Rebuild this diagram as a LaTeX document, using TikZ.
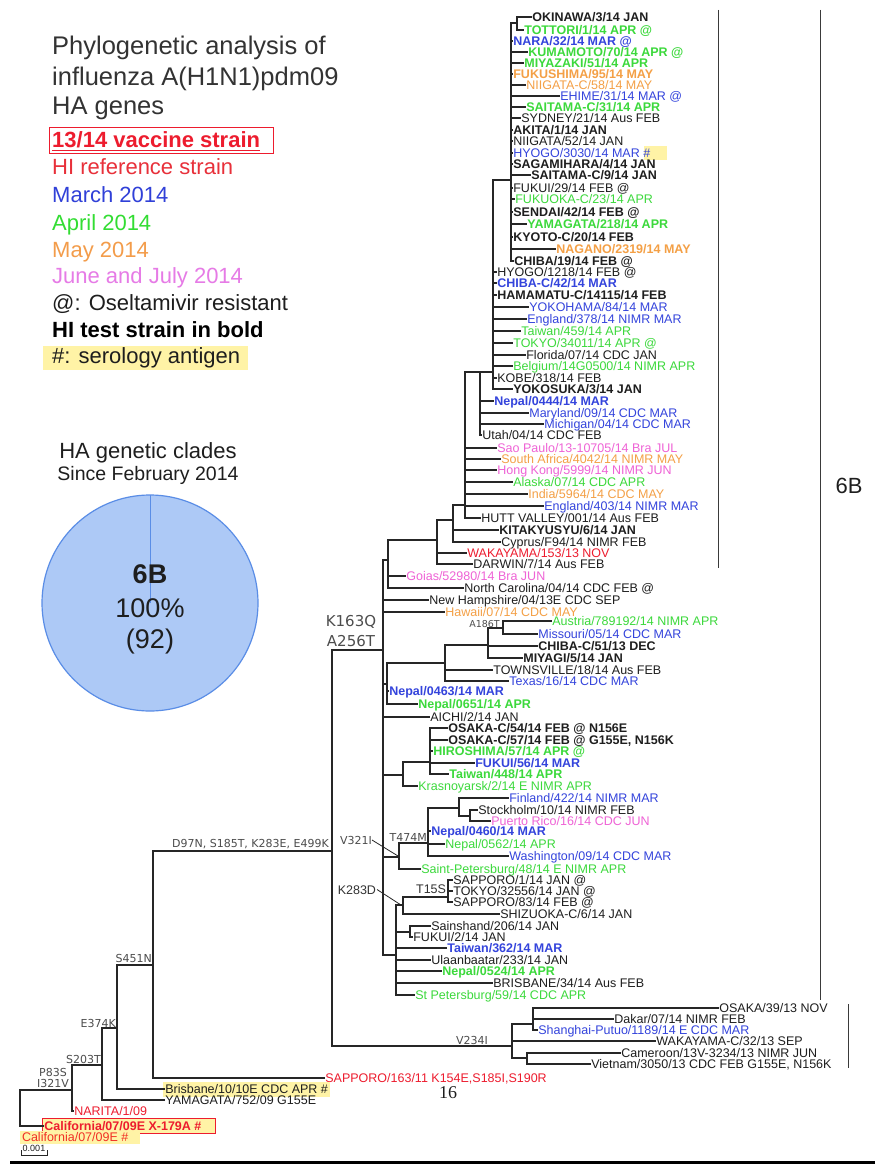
\documentclass[tikz,border=0pt]{standalone}
\usepackage{fontspec}
\setmainfont{Liberation Sans}
\newfontfamily\mutfont{DejaVu Sans}
\newfontfamily\numserif{Liberation Serif}

\definecolor{tline}{HTML}{262626}
\definecolor{tblack}{HTML}{1E1E1E}
\definecolor{tblue}{HTML}{3444DC}
\definecolor{tgreen}{HTML}{3CD93C}
\definecolor{torange}{HTML}{F4A046}
\definecolor{tpink}{HTML}{EF63D6}
\definecolor{tred}{HTML}{ED1C2E}
\definecolor{hlyel}{HTML}{FFF3A6}
\definecolor{piefill}{HTML}{ADC9F6}
\definecolor{pieedge}{HTML}{5A8DE6}
\definecolor{mutgray}{HTML}{4D4D4D}
\definecolor{ttl}{HTML}{333333}
\definecolor{brkgray}{HTML}{3A3A3A}
\definecolor{legred}{HTML}{E8303A}
\definecolor{legblue}{HTML}{3040D8}
\definecolor{leggreen}{HTML}{33DD33}
\definecolor{legorange}{HTML}{F39C4A}
\definecolor{legpink}{HTML}{E67BE6}

\newcommand\labfont{\fontsize{12.5}{13}\selectfont}
\newcommand\mutsize{\mutfont\fontsize{11}{12}\selectfont}
\newcommand\ttlfont{\fontsize{25.5}{28}\selectfont}
\newcommand\legfont{\fontsize{22}{24}\selectfont}

% tree drawing helpers (pixel units, y grows downwards)
% leaf: name, x of parent bar, x of tip, y, node style, text
\newcommand\tleaf[6]{\draw[br] (#2,#4) -- (#3,#4) node[#5] (#1) {#6};}
% vertical bar of an internal node: x, y top, y bottom
\newcommand\tvert[3]{\draw[br] (#1,#2) -- (#1,#3);}
% stem from a parent bar to a child bar: x parent, x child, y
\newcommand\tstem[3]{\draw[br] (#1,#3) -- (#2,#3);}

\tikzset{
  br/.style={draw=tline,line width=1.1pt,line cap=rect},
  R/.style={font=\labfont,anchor=west,inner sep=0.8pt,text height=9pt,text depth=0pt,text=tblack},
  B/.style={R,font=\labfont\bfseries},
  cblu/.style={text=tblue},
  cgrn/.style={text=tgreen},
  corg/.style={text=torange},
  cpnk/.style={text=tpink},
  cred/.style={text=tred},
  mut/.style={font=\mutsize,text=mutgray,inner sep=0pt},
  leg/.style={anchor=base west,inner sep=0pt,font=\legfont},
  brk/.style={draw=brkgray,line width=1pt},
}

\begin{document}
\begin{tikzpicture}[x=1pt,y=-1pt]
\fill[white] (0,0) rectangle (875,1169);

% ---------------- title and legend ----------------
\node[anchor=base west,inner sep=0,font=\ttlfont,text=ttl] (t1) at (52,55) {Phylogenetic analysis of};
\node[anchor=base west,inner sep=0,font=\ttlfont,text=ttl] (t2) at (52,85.5) {influenza A(H1N1)pdm09};
\node[anchor=base west,inner sep=0,font=\ttlfont,text=ttl] (t3) at (52,115) {HA genes};
\draw[tred,line width=0.9pt] (49,127) rectangle (273,153);
\node[leg,font=\legfont\bfseries,text=tred] (g1) at (52,148) {\underline{13/14 vaccine strain}};
\node[leg,text=legred] (g2) at (52,175) {HI reference strain};
\node[leg,text=legblue] (g3) at (52,202) {March 2014};
\node[leg,text=leggreen] (g4) at (52,230) {April 2014};
\node[leg,text=legorange] (g5) at (52,257) {May 2014};
\node[leg,text=legpink] (g6) at (52,283) {June and July 2014};
\node[leg,text=tblack] (g7) at (52,310) {@: Oseltamivir resistant};
\node[leg,font=\legfont\bfseries,text=black] (g8) at (52,337) {HI test strain in bold};
\fill[hlyel] (43,346) rectangle (248,370);
\node[leg,text=tblack] (g9) at (52,363) {\#: serology antigen};

% ---------------- clade pie ----------------
\node[anchor=base,inner sep=0,font=\legfont,text=tblack] (p1) at (148,458) {HA genetic clades};
\node[anchor=base,inner sep=0,font=\fontsize{19.5}{21}\selectfont,text=tblack] (p2) at (148,480) {Since February 2014};
\fill[piefill] (150,603) circle[radius=108pt];
\draw[pieedge,line width=1.2pt] (150,603) circle[radius=108pt];
\draw[pieedge,line width=1pt] (150,603) -- (150,495);
\node[anchor=base,inner sep=0,font=\fontsize{27}{28}\selectfont\bfseries,text=tblack] (p3) at (150,583) {6B};
\node[anchor=base,inner sep=0,font=\fontsize{27}{28}\selectfont,text=tblack] (p4) at (150,617) {100\%};
\node[anchor=base,inner sep=0,font=\fontsize{27}{28}\selectfont,text=tblack] (p5) at (150,648) {(92)};

% ---------------- top clade ----------------
\tvert{517}{17}{30}
\tstem{511}{517}{23}
\tleaf{okinawa}{517}{531}{17}{B}{OKINAWA/3/14 JAN}
\tleaf{tottori}{517}{523}{30}{B,cgrn}{TOTTORI/1/14 APR @}
\tvert{511}{23}{261}
\tleaf{nara}{511}{512}{41}{B,cblu}{NARA/32/14 MAR @}
\tleaf{kumamoto}{511}{527}{52}{B,cgrn}{KUMAMOTO/70/14 APR @}
\tleaf{miyazaki}{511}{523}{63}{B,cgrn}{MIYAZAKI/51/14 APR}
\tleaf{fukushima}{511}{512}{74}{B,corg}{FUKUSHIMA/95/14 MAY}
\tleaf{niigatac}{511}{525}{85}{R,corg}{NIIGATA-C/58/14 MAY}
\tleaf{ehime}{511}{559}{96}{R,cblu}{EHIME/31/14 MAR @}
\tleaf{saitamacA}{511}{525}{107}{B,cgrn}{SAITAMA-C/31/14 APR}
\tleaf{sydney}{511}{520}{118}{R}{SYDNEY/21/14 Aus FEB}
\tleaf{akita}{511}{512}{130}{B}{AKITA/1/14 JAN}
\tleaf{niigataB}{511}{512}{141}{R}{NIIGATA/52/14 JAN}
\fill[hlyel] (644,146) rectangle (667,160);
\tleaf{hyogoA}{511}{512}{153}{R,cblu}{HYOGO/3030/14 MAR \#}
\tleaf{sagamihara}{511}{512}{164}{B}{SAGAMIHARA/4/14 JAN}
\tleaf{saitamacB}{511}{530}{175}{B}{SAITAMA-C/9/14 JAN}
\tleaf{fukuiA}{511}{512}{188}{R}{FUKUI/29/14 FEB @}
\tleaf{fukuokac}{511}{514}{199}{R,cgrn}{FUKUOKA-C/23/14 APR}
\tleaf{sendai}{511}{512}{212}{B}{SENDAI/42/14 FEB @}
\tleaf{yamagataA}{511}{526}{224}{B,cgrn}{YAMAGATA/218/14 APR}
\tleaf{kyotoc}{511}{512}{237}{B}{KYOTO-C/20/14 FEB}
\tleaf{nagano}{511}{555}{249}{B,corg}{NAGANO/2319/14 MAY}
\tleaf{chibaA}{511}{513}{261}{B}{CHIBA/19/14 FEB @}

\tstem{493}{511}{180}
\tvert{493}{180}{389}
\tleaf{hyogoB}{493}{496}{272}{R}{HYOGO/1218/14 FEB @}
\tleaf{chibacA}{493}{496}{283}{B,cblu}{CHIBA-C/42/14 MAR}
\tleaf{hamamatu}{493}{496}{295}{B}{HAMAMATU-C/14115/14 FEB}
\tleaf{yokohama}{493}{528}{307}{R,cblu}{YOKOHAMA/84/14 MAR}
\tleaf{englandA}{493}{526}{319}{R,cblu}{England/378/14 NIMR MAR}
\tleaf{taiwanA}{493}{520}{331}{R,cgrn}{Taiwan/459/14 APR}
\tleaf{tokyoA}{493}{512}{343}{R,cgrn}{TOKYO/34011/14 APR @}
\tleaf{florida}{493}{525}{355}{R}{Florida/07/14 CDC JAN}
\tleaf{belgium}{493}{512}{366}{R,cgrn}{Belgium/14G0500/14 NIMR APR}
\tleaf{kobe}{493}{496}{378}{R}{KOBE/318/14 FEB}
\tleaf{yokosuka}{493}{512}{389}{B}{YOKOSUKA/3/14 JAN}

\tstem{480}{493}{372}
\tvert{480}{372}{435}
\tleaf{nepalA}{480}{493}{401}{B,cblu}{Nepal/0444/14 MAR}
\tleaf{maryland}{480}{528}{413}{R,cblu}{Maryland/09/14 CDC MAR}
\tleaf{michigan}{480}{543}{424}{R,cblu}{Michigan/04/14 CDC MAR}
\tleaf{utah}{480}{481}{435}{R}{Utah/04/14 CDC FEB}

\tstem{465}{480}{372}
\tvert{465}{372}{518}
\tleaf{saopaulo}{465}{496}{448}{R,cpnk}{Sao Paulo/13-10705/14 Bra JUL}
\tleaf{southafrica}{465}{500}{459}{R,corg}{South Africa/4042/14 NIMR MAY}
\tleaf{hongkong}{465}{496}{470}{R,cpnk}{Hong Kong/5999/14 NIMR JUN}
\tleaf{alaska}{465}{512}{482}{R,cgrn}{Alaska/07/14 CDC APR}
\tleaf{india}{465}{527}{494}{R,corg}{India/5964/14 CDC MAY}
\tleaf{englandB}{465}{543}{506}{R,cblu}{England/403/14 NIMR MAR}
\tleaf{hutt}{465}{480}{518}{R}{HUTT VALLEY/001/14 Aus FEB}

\tstem{453}{465}{505}
\tvert{453}{505}{542}
\tleaf{kitakyusyu}{453}{498}{530}{B}{KITAKYUSYU/6/14 JAN}
\tleaf{cyprus}{453}{500}{542}{R}{Cyprus/F94/14 NIMR FEB}

\tstem{437}{453}{520}
\tvert{437}{520}{564}
\tleaf{wakayamaA}{437}{466}{553}{R,cred}{WAKAYAMA/153/13 NOV}
\tleaf{darwin}{437}{472}{564}{R}{DARWIN/7/14 Aus FEB}

\tstem{388}{437}{540}
\tvert{388}{540}{588}
\tleaf{goias}{388}{405}{576}{R,cpnk}{Goias/52980/14 Bra JUN}
\tleaf{ncarolina}{388}{463}{588}{R}{North Carolina/04/14 CDC FEB @}

% ---------------- K163Q / A256T clade ----------------
\tstem{383}{388}{560}
\tvert{383}{560}{955}
\tleaf{nhampshire}{383}{428}{600}{R}{New Hampshire/04/13E CDC SEP}
\tleaf{hawaii}{383}{444}{612}{R,corg}{Hawaii/07/14 CDC MAY}
\tleaf{aichi}{383}{429}{717}{R}{AICHI/2/14 JAN}

\tstem{383}{387}{684}
\tvert{387}{663}{704}
\tleaf{nepalB}{387}{388}{691}{B,cblu}{Nepal/0463/14 MAR}
\tleaf{nepalC}{387}{417}{704}{B,cgrn}{Nepal/0651/14 APR}

\tstem{387}{445}{663}
\tvert{445}{645}{681}
\tleaf{townsville}{445}{492}{670}{R}{TOWNSVILLE/18/14 Aus FEB}
\tleaf{texas}{445}{508}{681}{R,cblu}{Texas/16/14 CDC MAR}
\tstem{445}{488}{645}
\tvert{488}{628}{658}
\tleaf{chibacB}{488}{537}{646}{B}{CHIBA-C/51/13 DEC}
\tleaf{miyagi}{488}{522}{658}{B}{MIYAGI/5/14 JAN}
\tstem{488}{503}{628}
\tvert{503}{621}{634}
\tleaf{austria}{503}{551}{621}{R,cgrn}{Austria/789192/14 NIMR APR}
\tleaf{missouri}{503}{537}{634}{R,cblu}{Missouri/05/14 CDC MAR}
\node[mut,font=\mutfont\fontsize{9.5}{10}\selectfont,anchor=base east] (mA186) at (500,627) {A186T};

\tstem{383}{403}{775}
\tvert{403}{762}{786}
\tleaf{krasnoyarsk}{403}{417}{786}{R,cgrn}{Krasnoyarsk/2/14 E NIMR APR}
\tstem{403}{430}{762}
\tvert{430}{728}{774}
\tleaf{osakacA}{430}{447}{728}{B}{OSAKA-C/54/14 FEB @ N156E}
\tleaf{osakacB}{430}{447}{740}{B}{OSAKA-C/57/14 FEB @ G155E, N156K}
\tleaf{hiroshima}{430}{432}{751}{B,cgrn}{HIROSHIMA/57/14 APR @}
\tleaf{fukuiB}{430}{474}{763}{B,cblu}{FUKUI/56/14 MAR}
\tleaf{taiwanB}{430}{448}{774}{B,cgrn}{Taiwan/448/14 APR}

\tstem{383}{399}{857}
\tvert{399}{843}{869}
\tleaf{saintpete}{399}{420}{869}{R,cgrn}{Saint-Petersburg/48/14 E NIMR APR}
\tstem{399}{428}{843}
\tvert{428}{808}{856}
\tleaf{nepalD}{428}{430}{831}{B,cblu}{Nepal/0460/14 MAR}
\tleaf{nepalE}{428}{444}{844}{R,cgrn}{Nepal/0562/14 APR}
\tleaf{washington}{428}{508}{856}{R,cblu}{Washington/09/14 CDC MAR}
\tstem{428}{459}{808}
\tvert{459}{798}{816}
\tleaf{finland}{459}{508}{798}{R,cblu}{Finland/422/14 NIMR MAR}
\tstem{459}{470}{816}
\tvert{470}{810}{821}
\tleaf{stockholm}{470}{477}{810}{R}{Stockholm/10/14 NIMR FEB}
\tleaf{puertorico}{470}{490}{821}{R,cpnk}{Puerto Rico/16/14 CDC JUN}
\node[mut,anchor=base east] (mT474) at (427,841) {T474M};
\node[mut,anchor=base east] (mV321) at (372,844) {V321I};
\coordinate (vnode) at (398,856);
\draw[tline,line width=0.8pt] (mV321.east) -- (vnode);

\tstem{383}{396}{955}
\tvert{396}{905}{995}
\tleaf{taiwanC}{396}{446}{948}{B,cblu}{Taiwan/362/14 MAR}
\tleaf{ulaanbaatar}{396}{430}{960}{R}{Ulaanbaatar/233/14 JAN}
\tleaf{nepalF}{396}{441}{971}{B,cgrn}{Nepal/0524/14 APR}
\tleaf{brisbaneB}{396}{492}{983}{R}{BRISBANE/34/14 Aus FEB}
\tleaf{stpete}{396}{414}{995}{R,cgrn}{St Petersburg/59/14 CDC APR}
\tstem{396}{403}{905}
\tvert{403}{897}{914}
\tleaf{shizuoka}{403}{499}{914}{R}{SHIZUOKA-C/6/14 JAN}
\tstem{403}{448}{897}
\tvert{448}{880}{902}
\tleaf{sapporoA}{448}{452}{880}{R}{SAPPORO/1/14 JAN @}
\tleaf{tokyoB}{448}{452}{891}{R}{TOKYO/32556/14 JAN @}
\tleaf{sapporoB}{448}{452}{902}{R}{SAPPORO/83/14 FEB @}
\tstem{396}{410}{932}
\tvert{410}{926}{937}
\tleaf{sainshand}{410}{430}{926}{R}{Sainshand/206/14 JAN}
\tleaf{fukuiC}{410}{412}{937}{R}{FUKUI/2/14 JAN}
\node[R,anchor=base east,text=ttl] (mT15) at (447,893) {T15S};
\node[R,anchor=base east,text=ttl] (mK283) at (377,894) {K283D};
\coordinate (knode) at (401,905);
\draw[tline,line width=0.8pt] (mK283.east) -- (knode);

% ---------------- backbone ----------------
\tstem{332}{383}{650}
\node[mut,font=\mutfont\fontsize{15}{16}\selectfont,anchor=base] (mK163) at (351,626) {K163Q};
\node[mut,font=\mutfont\fontsize{15}{16}\selectfont,anchor=base] (mA256) at (351,646) {A256T};
\tvert{332}{650}{1046}
\tstem{332}{512}{1046}
\node[mut,anchor=base east] (mV234) at (488,1044) {V234I};
\tvert{512}{1024}{1058}
\tleaf{wakayamaB}{512}{655}{1041}{R}{WAKAYAMA-C/32/13 SEP}
\tstem{512}{533}{1024}
\tvert{533}{1008}{1030}
\tleaf{osakaD}{533}{718}{1008}{R}{OSAKA/39/13 NOV}
\tleaf{dakar}{533}{613}{1019}{R}{Dakar/07/14 NIMR FEB}
\tleaf{shanghai}{533}{537}{1030}{R,cblu}{Shanghai-Putuo/1189/14 E CDC MAR}
\tstem{512}{527}{1058}
\tvert{527}{1053}{1064}
\tleaf{cameroon}{527}{620}{1053}{R}{Cameroon/13V-3234/13 NIMR JUN}
\tleaf{vietnam}{527}{590}{1064}{R}{Vietnam/3050/13 CDC FEB G155E, N156K}

\tstem{153}{332}{851}
\node[mut,anchor=base east] (mD97) at (329,847) {D97N, S185T, K283E, E499K};
\tvert{153}{851}{1078}
\tleaf{sapporoC}{153}{324}{1078}{R,cred}{SAPPORO/163/11 K154E,S185I,S190R}
\tstem{117}{153}{965}
\node[mut,anchor=base east] (mS451) at (152,962) {S451N};
\tvert{117}{965}{1089}
\fill[hlyel] (163,1082) rectangle (330,1097);
\tleaf{brisbaneA}{117}{164}{1089}{R}{Brisbane/10/10E CDC APR \#}
\tstem{102}{117}{1028}
\node[mut,anchor=base east] (mE374) at (116,1027) {E374K};
\tvert{102}{1028}{1100}
\tleaf{yamagataB}{102}{164}{1100}{R}{YAMAGATA/752/09 G155E}
\tstem{72}{102}{1065}
\node[mut,anchor=base east] (mS203) at (101,1063) {S203T};
\tvert{72}{1065}{1111}
\tleaf{narita}{72}{73}{1111}{R,cred}{NARITA/1/09}
\tstem{20}{72}{1090}
\node[mut,anchor=base] (mP83) at (53,1076) {P83S};
\node[mut,anchor=base] (mI321) at (53,1087) {I321V};
\tvert{20}{1090}{1126}
\fill[hlyel] (42,1118) rectangle (215,1133);
\draw[tred,line width=1pt] (42,1118) rectangle (215,1133);
\tleaf{calA}{20}{43}{1126}{B,cred}{California/07/09E X-179A \#}
\fill[hlyel] (20,1131) rectangle (140,1144);
\node[R,text=tred!80!orange] (calB) at (21,1137) {California/07/09E \#};
\node[anchor=base,inner sep=0,font=\numserif\fontsize{18}{18}\selectfont,text=tblack] (sixteen) at (448,1098) {16};

% scale bar
\node[anchor=base,inner sep=0,font=\fontsize{9}{9}\selectfont,text=tblack] (scl) at (34,1151) {0.001};
\draw[tline,line width=0.8pt] (21,1150) -- (21,1155) -- (47,1155) -- (47,1150);

% ---------------- clade brackets ----------------
\draw[brk] (718,10) -- (718,568);
\draw[brk] (820,10) -- (820,1000);
\node[inner sep=0,font=\fontsize{22}{24}\selectfont,text=tblack] (clade) at (849,486) {6B};
\draw[brk] (848,1004) -- (848,1068);

\draw[black,line width=3pt] (10,1162) -- (875,1162);
\end{tikzpicture}
\end{document}
